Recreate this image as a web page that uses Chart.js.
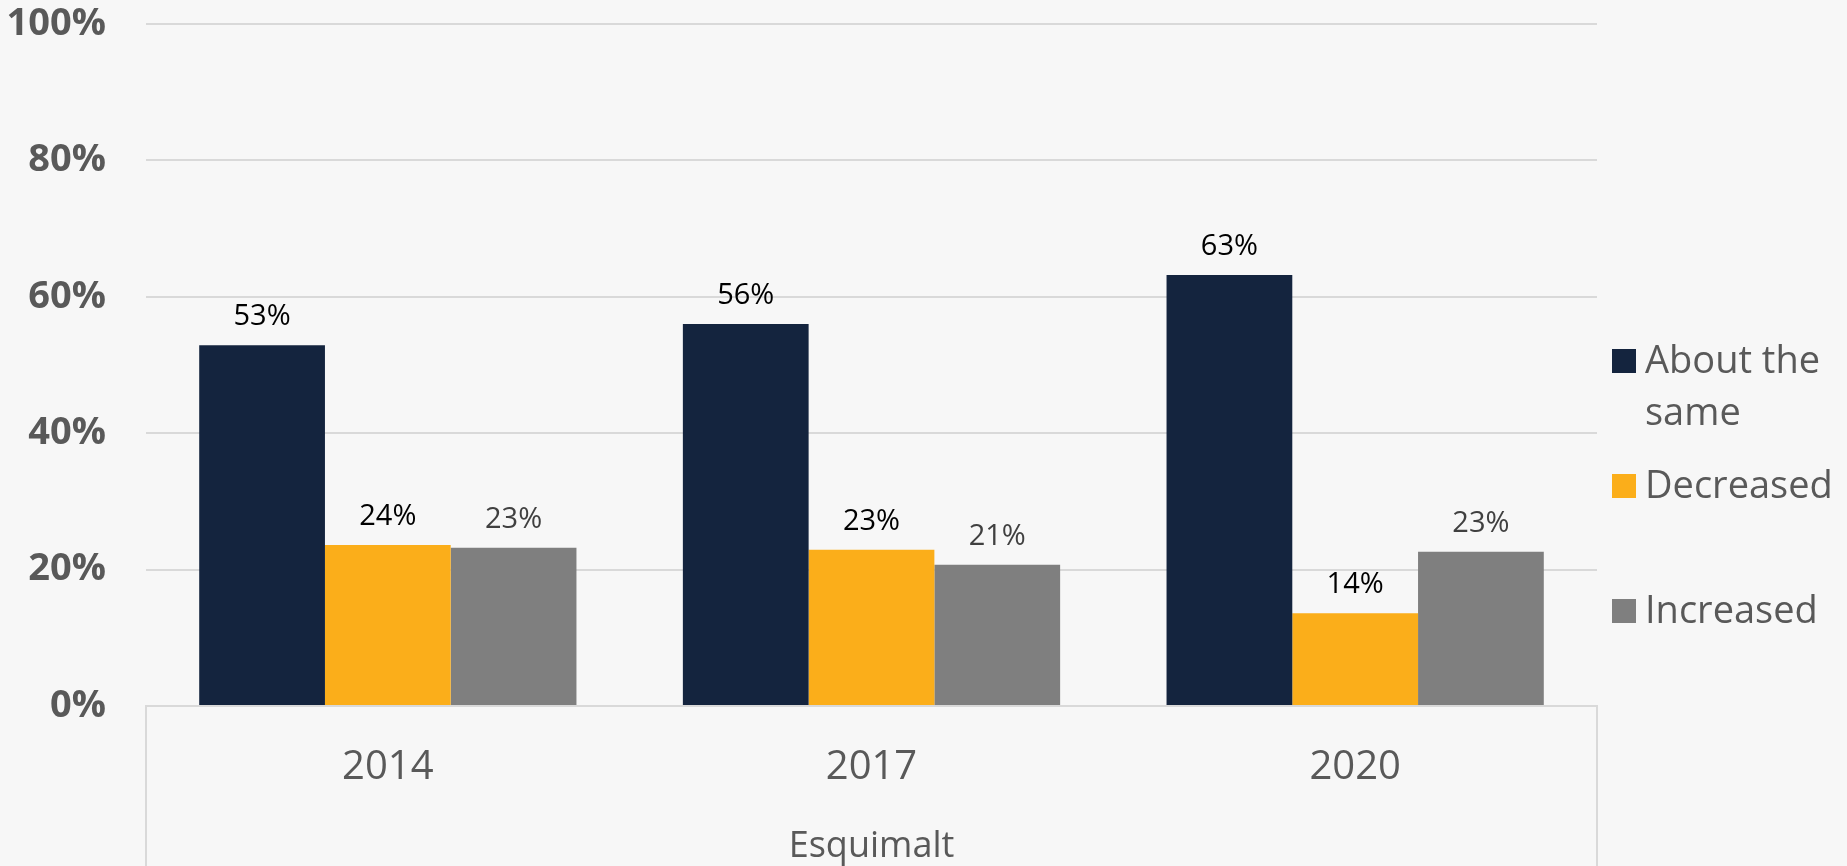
<!DOCTYPE html>
<html>
<head>
<meta charset="utf-8">
<title>Esquimalt</title>
<script src="https://cdn.jsdelivr.net/npm/chart.js@4.4.1/dist/chart.umd.min.js"></script>
<style>
  html, body { margin: 0; padding: 0; background: #f7f7f7; }
  canvas { display: block; }
</style>
</head>
<body>
<canvas id="chart" width="1847" height="866"></canvas>
<script>
// Data
const years = ['2014', '2017', '2020'];
const groupLabel = 'Esquimalt';
const seriesNames = ['About the same', 'Decreased', 'Increased'];
const aboutTheSame = [52.9, 56.0, 63.2];
const decreased = [23.6, 22.9, 13.6];
const increased = [23.2, 20.7, 22.6];
const yTicks = [0, 20, 40, 60, 80, 100];

const seriesColors = ['#14243e', '#fbae1a', '#7f7f7f'];
const labelColors = ['#000000', '#000000', '#404040'];
const axisTextColor = '#595959';
const gridColor = '#d9d9d9';
const FONT = '"Open Sans", "Noto Sans", sans-serif';

// value labels above each bar
const valueLabels = {
  id: 'valueLabels',
  afterDatasetsDraw(chart) {
    const ctx = chart.ctx;
    ctx.save();
    ctx.font = `29px ${FONT}`;
    ctx.textAlign = 'center';
    ctx.textBaseline = 'alphabetic';
    chart.data.datasets.forEach((ds, i) => {
      const meta = chart.getDatasetMeta(i);
      ctx.fillStyle = labelColors[i];
      meta.data.forEach((bar, j) => {
        ctx.fillText(Math.round(ds.data[j]) + '%', bar.x, bar.y - 20);
      });
    });
    ctx.restore();
  }
};

// category box below the axis (Excel style multi-level axis)
const categoryBox = {
  id: 'categoryBox',
  afterDraw(chart) {
    const { ctx, chartArea } = chart;
    ctx.save();
    ctx.strokeStyle = gridColor;
    ctx.lineWidth = 2;
    [chartArea.left, chartArea.right].forEach(x => {
      ctx.beginPath();
      ctx.moveTo(x, chartArea.bottom);
      ctx.lineTo(x, chart.height);
      ctx.stroke();
    });
    ctx.restore();
  }
};

// legend on the right, with wrapped labels
const sideLegend = {
  id: 'sideLegend',
  afterDraw(chart) {
    const ctx = chart.ctx;
    const boxLeft = chart.chartArea.right + 15;
    const textLeft = boxLeft + 33;
    const maxWidth = chart.width - textLeft - 8;
    const lineHeight = 52;
    const slot = 125;
    let baseline = 373;
    ctx.save();
    ctx.font = `38px ${FONT}`;
    ctx.textAlign = 'left';
    ctx.textBaseline = 'alphabetic';
    chart.data.datasets.forEach((ds, i) => {
      // wrap words
      const words = ds.label.split(' ');
      const lines = [];
      let line = '';
      words.forEach(w => {
        const test = line ? line + ' ' + w : w;
        if (ctx.measureText(test).width > maxWidth && line) {
          lines.push(line);
          line = w;
        } else {
          line = test;
        }
      });
      lines.push(line);

      ctx.fillStyle = ds.backgroundColor;
      ctx.fillRect(boxLeft, baseline - 24, 24, 24);
      ctx.fillStyle = axisTextColor;
      lines.forEach((l, k) => ctx.fillText(l, textLeft, baseline + k * lineHeight));
      baseline += slot;
    });
    ctx.restore();
  }
};

const seriesValues = [aboutTheSame, decreased, increased];

new Chart(document.getElementById('chart'), {
  type: 'bar',
  data: {
    labels: years,
    datasets: seriesNames.map((name, i) => ({
      label: name,
      data: seriesValues[i],
      backgroundColor: seriesColors[i],
      borderWidth: 0,
      categoryPercentage: 0.78,
      barPercentage: 1.0
    }))
  },
  options: {
    responsive: false,
    animation: false,
    layout: {
      padding: { top: 24, right: 250, bottom: 0, left: 0 }
    },
    plugins: {
      legend: { display: false },
      tooltip: { enabled: false }
    },
    scales: {
      x: {
        grid: { display: false },
        border: { display: true, color: gridColor, width: 2 },
        ticks: {
          color: axisTextColor,
          font: { family: FONT, size: 40, lineHeight: 1.2 },
          padding: 30
        },
        title: {
          display: true,
          text: groupLabel,
          color: axisTextColor,
          font: { family: FONT, size: 36, lineHeight: 1.0 },
          padding: { top: 0, bottom: 1 }
        },
        afterFit(scale) { scale.height = 160; }
      },
      y: {
        min: 0,
        max: 100,
        afterBuildTicks(scale) {
          scale.ticks = yTicks.map(v => ({ value: v }));
        },
        grid: { color: gridColor, lineWidth: 2, drawTicks: false },
        border: { display: false },
        ticks: {
          color: axisTextColor,
          font: { family: FONT, size: 38, weight: 'bold', lineHeight: 1.2 },
          padding: 40,
          callback: v => v + '%'
        },
        afterFit(scale) {
          scale.width = 146;
          scale.paddingTop = 0;
          scale.paddingBottom = 0;
        }
      }
    }
  },
  plugins: [valueLabels, categoryBox, sideLegend]
});
</script>
</body>
</html>
